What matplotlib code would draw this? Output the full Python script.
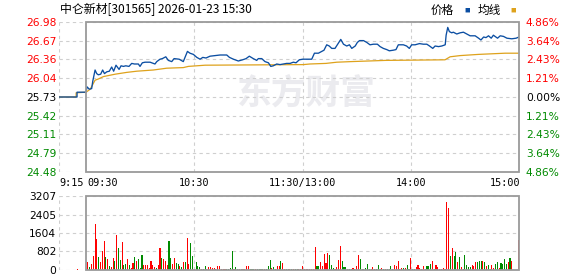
import matplotlib
matplotlib.use("Agg")
import matplotlib.pyplot as plt
from matplotlib.patches import Rectangle
from matplotlib.transforms import blended_transform_factory

plt.rcParams['font.family'] = ['Noto Sans CJK SC', 'DejaVu Sans']

# axis values
prev_close = 25.73
price_ticks = [26.98, 26.67, 26.36, 26.04, 25.73, 25.42, 25.11, 24.79, 24.48]
pct_labels = ['4.86%', '3.64%', '2.43%', '1.21%', '0.00%', '1.21%', '2.43%', '3.64%', '4.86%']
vol_ticks = [0, 802, 1604, 2405, 3207]
time_pos = [-15, 0, 60, 120, 180, 240]
time_labels = ['9:15', '09:30', '10:30', '11:30/13:00', '14:00', '15:00']

# price line, minutes from 09:30
price_t = [-15, -5, -5, 0, 0.5, 1.8, 3.1, 3.7, 5, 5.9, 6.8, 8.1, 9.2, 10.2, 11.5, 12.9, 14.2, 15.3,
           16.6, 18.3, 19.4, 20.7, 22, 23.8, 25.3, 26.8, 29, 29.9, 31.2, 32.7, 35.5, 36.4, 38.2,
           39.2, 41, 42.3, 44.2, 45.6, 47.5, 48.8, 51.6, 53.9, 56.2, 57.6, 59.5, 61.4, 63.2, 64.7,
           66.5, 68.7, 74.3, 78, 79.5, 81.7, 84.4, 86.8, 88.7, 90.5, 92.7, 94.6, 95.5, 97.4, 99.2,
           101.1, 102.4, 103.8, 105.7, 107.5, 109.4, 111.2, 113.1, 114.9, 116.4, 118.2, 120.1,
           125.1, 126.6, 128.8, 130.6, 131.9, 133.4, 134.8, 136.2, 138, 139.3, 141.2, 142.7, 144.5,
           146, 147.3, 149.2, 150.4, 151.6, 153.8, 155.6, 157.4, 159.3, 161.5, 163, 164.8, 166.7,
           168.1, 170.3, 171.8, 173.1, 175.9, 177.7, 179.2, 180.5, 182.4, 184.8, 187, 188.9, 190.4,
           192.2, 193.5, 195.4, 197.2, 199.1, 199.6, 200.5, 201.4, 202.7, 203.6, 205.5, 207.4,
           209.2, 211.1, 212.9, 215.7, 217.6, 218.9, 220.4, 221.7, 223.1, 224.6, 225.8, 228.1,
           229.6, 231.4, 233.3, 236, 238.4, 240]
price_v = [25.73, 25.73, 25.81, 25.81, 25.90, 25.86, 25.87, 25.99, 26.18, 26.12, 26.10, 26.11, 26.18,
           26.12, 26.15, 26.16, 26.23, 26.16, 26.26, 26.19, 26.25, 26.24, 26.25, 26.24, 26.29, 26.28,
           26.28, 26.24, 26.30, 26.31, 26.31, 26.30, 26.28, 26.32, 26.36, 26.37, 26.40, 26.34, 26.32,
           26.37, 26.36, 26.32, 26.49, 26.46, 26.44, 26.39, 26.36, 26.39, 26.38, 26.41, 26.43, 26.43,
           26.39, 26.36, 26.33, 26.35, 26.37, 26.41, 26.37, 26.34, 26.37, 26.37, 26.32, 26.30, 26.24,
           26.25, 26.28, 26.27, 26.28, 26.29, 26.29, 26.31, 26.30, 26.35, 26.36, 26.36, 26.46, 26.46,
           26.49, 26.51, 26.60, 26.58, 26.54, 26.54, 26.60, 26.69, 26.61, 26.58, 26.60, 26.54, 26.58,
           26.64, 26.67, 26.67, 26.64, 26.60, 26.61, 26.61, 26.57, 26.54, 26.52, 26.50, 26.51, 26.52,
           26.60, 26.60, 26.58, 26.54, 26.60, 26.60, 26.62, 26.61, 26.61, 26.58, 26.54, 26.58, 26.57,
           26.58, 26.60, 26.76, 26.89, 26.82, 26.80, 26.81, 26.78, 26.80, 26.81, 26.78, 26.75, 26.75,
           26.71, 26.68, 26.73, 26.72, 26.75, 26.71, 26.76, 26.71, 26.75, 26.74, 26.71, 26.70, 26.71,
           26.73]

# average price line
avg_t = [-15, -5.5, -5.5, 0, 2.3, 4.1, 5, 6.8, 9.6, 16.1, 22.5, 28.1, 37.3, 44.7, 53.9, 56.7, 66,
         120.5, 124, 133, 139, 147, 166, 199, 201.8, 207.3, 217.5, 232.3, 240]
avg_v = [25.73, 25.73, 25.80, 25.81, 25.86, 25.96, 26.01, 26.03, 26.07, 26.11, 26.14, 26.16, 26.18,
         26.21, 26.22, 26.24, 26.26, 26.27, 26.28, 26.29, 26.31, 26.32, 26.34, 26.35, 26.40, 26.42,
         26.44, 26.46, 26.46]

# volume, one bar per minute 09:31 .. 15:00, plus the 09:25 auction
pre_t = -4.5
pre_vol = 58
vol = [347, 130, 260, 607, 1994, 1344, 564, 347, 824, 1257, 564, 477, 173, 145, 520, 390, 1517, 954,
       434, 1214, 217, 260, 477, 217, 87, 303, 564, 390, 477, 87, 650, 217, 217, 217, 87, 390, 217,
       130, 87, 217, 954, 520, 477, 390, 217, 1257, 520, 260, 520, 303, 260, 173, 130, 347, 347,
       1387, 260, 1170, 607, 43, 347, 173, 130, 43, 43, 173, 43, 130, 130, 87, 87, 43, 173, 173, 43,
       43, 43, 43, 43, 87, 824, 43, 130, 43, 43, 43, 43, 43, 173, 173, 43, 43, 43, 43, 43, 43, 43,
       43, 43, 43, 173, 434, 87, 130, 43, 173, 173, 390, 303, 43, 43, 43, 43, 43, 43, 43,
       43, 43, 43, 173, 43, 43, 43, 43, 43, 43, 997, 173, 173, 347, 173, 694, 303, 737, 650, 217,
       87, 43, 130, 434, 1040, 390, 130, 130, 43, 43, 43, 87, 43, 173, 650, 477, 43, 43, 87, 260,
       43, 43, 130, 43, 43, 217, 43, 87, 43, 43, 43, 43, 173, 43, 217, 173, 390, 43, 87, 87, 87, 217,
       43, 520, 43, 43, 130, 217, 87, 43, 173, 43, 173, 173, 260, 390, 43, 217, 130, 43, 43, 87, 43,
       2948, 2688, 607, 954, 607, 780, 347, 564, 130, 43, 650, 217, 130, 130, 217, 173, 347, 347,
       390, 390, 390, 347, 173, 217, 43, 217, 87, 260, 347, 87, 303, 260, 477, 260, 347, 520, 390,
       0, 0, 0, 1300]
# r = up minute, g = down minute
vol_dir = ("rgrrrrgrrr" "grgrrgrggr" "ggrgrrgrgg" "grrrrrrrgr" "rgrrrggrrg" "grgrg"
           "rrggrgggrg" "grrrrrgrrr" "rrggggrggr" "grrrrgggrg" "gggrgggrgr" "rrgrrggrgr" "g"
           "grgrrrrrrr" "rggrrrrrgg" "grrrrgggrg" "grgrrggrgg" "grrrgg" "grgrgggrrrrgrgrg"
           "grggrrrrrr" "gggrgrrrrr" "rrrgrggrgr" "rggggrrrgg" "grgrggrrgg" "rggggrgrrr" "rr")
vol_t = list(range(1, len(vol) + 1))

blue = '#0b4ea2'
orange = '#dea21c'
grid_c = '#cfcfcf'
frame_c = '#9a9a9a'
red = '#ff0000'
green = '#008a00'

fig = plt.figure(figsize=(5.78, 2.76), dpi=100)
W, H = 578, 276
ax = fig.add_axes([59 / W, 1 - 172 / H, 460 / W, 150 / H])
axv = fig.add_axes([59 / W, 1 - 270 / H, 460 / W, 74 / H])

lo, hi = price_ticks[-1], price_ticks[0]
ax.set_xlim(-15, 240)
ax.set_ylim(lo, hi)
ax.hlines(price_ticks, -15, 240, colors=grid_c, linestyles=(0, (3, 3)), lw=0.8)
ax.vlines([-15, 60, 120, 180], lo, hi, colors=grid_c, linestyles=(0, (3, 3)), lw=0.8)
ax.add_patch(Rectangle((0, lo), 240, hi - lo, fill=False, ec=frame_c, lw=1.3, clip_on=False, zorder=5))

# watermark
ax.text(122, 25.80, '东方财富', fontsize=25, fontweight='bold', color='#ebebef',
        ha='center', va='center', zorder=1)

ax.plot(avg_t, avg_v, color=orange, lw=0.9, zorder=3)
ax.plot(price_t, price_v, color=blue, lw=0.95, zorder=4)

for s in ax.spines.values():
    s.set_visible(False)
ax.set_xticks([])
ax.set_yticks(price_ticks)
ax.set_yticklabels([f'{p:.2f}' for p in price_ticks], family='DejaVu Sans', fontsize=7.7)
ax.tick_params(axis='y', length=0, pad=2)
for lab, p in zip(ax.get_yticklabels(), price_ticks):
    lab.set_color(red if p > prev_close else ('black' if p == prev_close else green))

axr = ax.twinx()
axr.set_ylim(lo, hi)
axr.set_yticks(price_ticks)
axr.set_yticklabels(pct_labels, family='DejaVu Sans', fontsize=7.7)
axr.tick_params(axis='y', length=0, pad=5)
for lab, p in zip(axr.get_yticklabels(), price_ticks):
    lab.set_color(red if p > prev_close else ('black' if p == prev_close else green))
for s in axr.spines.values():
    s.set_visible(False)

# time labels under the price panel
tr = blended_transform_factory(ax.transData, ax.transAxes)
aligns = ['left', 'left', 'center', 'center', 'center', 'right']
offs = [0, 0.6, 0, 0, 0, 1]
for t, lab, a, o in zip(time_pos, time_labels, aligns, offs):
    ax.text(t + o, -0.075, lab, transform=tr, ha=a, va='center',
            family='DejaVu Sans Mono', fontsize=7.3)

# volume panel
axv.set_xlim(-15, 240)
axv.set_ylim(0, vol_ticks[-1])
axv.hlines(vol_ticks, -15, 240, colors=grid_c, linestyles=(0, (3, 3)), lw=0.8)
axv.vlines([-15, 60, 120, 180], 0, vol_ticks[-1], colors=grid_c, linestyles=(0, (3, 3)), lw=0.8)
axv.add_patch(Rectangle((0, 0), 240, vol_ticks[-1], fill=False, ec=frame_c, lw=1.3,
                        clip_on=False, zorder=5))
cols = [red if c == 'r' else green for c in vol_dir]
axv.bar(vol_t, vol, width=0.6, color=cols, zorder=3)
axv.bar([pre_t], [pre_vol], width=0.6, color=red, zorder=3)
for s in axv.spines.values():
    s.set_visible(False)
axv.set_xticks([])
axv.set_yticks(vol_ticks)
axv.set_yticklabels([str(v) for v in vol_ticks], family='DejaVu Sans', fontsize=7.7)
axv.tick_params(axis='y', length=0, pad=2)

# header
fig.text(60 / W, 1 - 10 / H, '中仑新材[301565] 2026-01-23 15:30', fontsize=8.6, va='center', ha='left')
fig.text(431 / W, 1 - 10 / H, '价格', fontsize=8.4, va='center', ha='left')
fig.text(464 / W, 1 - 10 / H, '■', color=blue, fontsize=4, va='center', ha='left')
fig.text(478 / W, 1 - 10 / H, '均线', fontsize=8.4, va='center', ha='left')
fig.text(510 / W, 1 - 10 / H, '■', color=orange, fontsize=4, va='center', ha='left')

fig.savefig('out.png', dpi=100)
